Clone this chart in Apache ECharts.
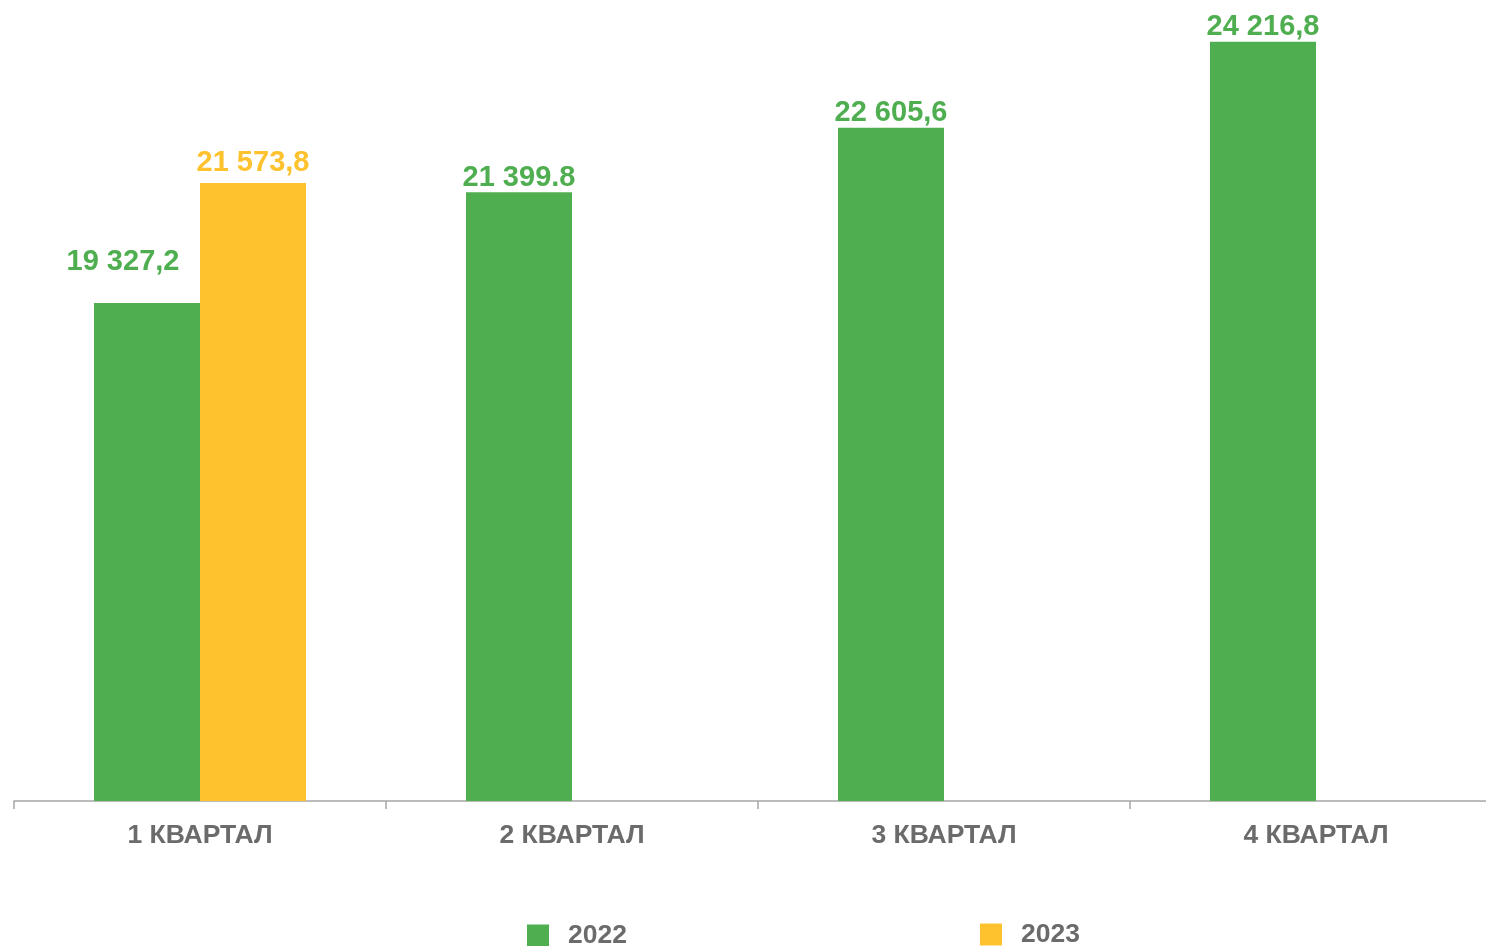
<!DOCTYPE html>
<html>
<head>
<meta charset="utf-8">
<script src="https://cdn.jsdelivr.net/npm/echarts@6/dist/echarts.min.js"></script>
<style>html,body{margin:0;padding:0;background:#fff;overflow:hidden;}#c{width:1502px;height:946px;}</style>
</head>
<body>
<div id="c"></div>
<script>
var categories = ['1 КВАРТАЛ', '2 КВАРТАЛ', '3 КВАРТАЛ', '4 КВАРТАЛ'];
var values2022 = [19327.2, 21399.8, 22605.6, 24216.8];
var values2023 = [21573.8, null, null, null];
var labels2022 = ['19 327,2', '21 399.8', '22 605,6', '24 216,8'];
var labels2023 = ['21 573,8', '', '', ''];
var seriesNames = ['2022', '2023'];

var GREEN = '#4fae50', YELLOW = '#fec22e', GRAY = '#6b6b6b';
var chart = echarts.init(document.getElementById('c'));
var font = '"Liberation Sans", Arial, sans-serif';

var data2022 = values2022.map(function (v, i) {
  var d = { value: v };
  if (i === 0) d.label = { offset: [-24, -26] };
  return d;
});

chart.setOption({
  animation: false,
  grid: { left: 14, right: 0, top: 0, bottom: 145 },
  xAxis: {
    type: 'category',
    data: categories,
    axisLine: { lineStyle: { color: '#a6a6a6', width: 1.5 } },
    axisTick: { show: true, length: 8, lineStyle: { color: '#a6a6a6', width: 1.5 } },
    axisLabel: { color: GRAY, fontSize: 26.5, fontWeight: 'bold', fontFamily: font, margin: 21 }
  },
  yAxis: { type: 'value', min: 10000, max: 25000, show: false, splitLine: { show: false } },
  legend: [
    { data: [seriesNames[0]], left: 522, top: 917, itemWidth: 22, itemHeight: 22, icon: 'rect',
      textStyle: { color: GRAY, fontSize: 26.5, fontWeight: 'bold', fontFamily: font, padding: [0, 0, 0, 14] } },
    { data: [seriesNames[1]], left: 975, top: 916, itemWidth: 22, itemHeight: 22, icon: 'rect',
      textStyle: { color: GRAY, fontSize: 26.5, fontWeight: 'bold', fontFamily: font, padding: [0, 0, 0, 14] } }
  ],
  series: [
    { name: seriesNames[0], type: 'bar', data: data2022, barWidth: 106, barGap: '0%',
      itemStyle: { color: GREEN },
      label: { show: true, position: 'top', distance: 0, color: GREEN, fontSize: 29, fontWeight: 'bold', fontFamily: font,
        formatter: function (p) { return labels2022[p.dataIndex]; } } },
    { name: seriesNames[1], type: 'bar', data: values2023, barWidth: 106, barGap: '0%',
      itemStyle: { color: YELLOW },
      label: { show: true, position: 'top', distance: 5, color: YELLOW, fontSize: 29, fontWeight: 'bold', fontFamily: font,
        formatter: function (p) { return labels2023[p.dataIndex]; } } }
  ]
});
</script>
</body>
</html>
